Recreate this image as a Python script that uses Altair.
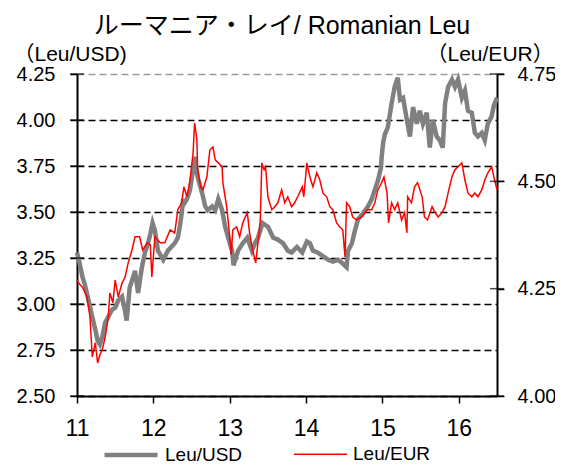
import altair as alt
import pandas as pd

# ---- data ----
usd_t = [11.00, 11.03, 11.07, 11.10, 11.14, 11.20, 11.24, 11.27, 11.30, 11.33, 11.37, 11.41, 11.46, 11.50,
         11.54, 11.59, 11.63, 11.65, 11.69, 11.76, 11.80, 11.85, 11.89, 11.93, 11.96, 11.99, 12.02, 12.06,
         12.13, 12.19, 12.28, 12.32, 12.35, 12.37, 12.39, 12.41, 12.44, 12.48, 12.52, 12.54, 12.58, 12.64,
         12.68, 12.71, 12.77, 12.81, 12.85, 12.90, 12.94, 12.98, 13.03, 13.05, 13.11, 13.17, 13.23, 13.29,
         13.33, 13.37, 13.43, 13.50, 13.57, 13.63, 13.70, 13.76, 13.81, 13.88, 13.95, 14.01, 14.05, 14.09,
         14.15, 14.22, 14.29, 14.35, 14.42, 14.48, 14.53, 14.55, 14.60, 14.64, 14.68, 14.74, 14.81, 14.86,
         14.90, 14.94, 14.98, 14.99, 15.01, 15.03, 15.07, 15.12, 15.16, 15.20, 15.23, 15.27, 15.32, 15.36,
         15.40, 15.45, 15.49, 15.53, 15.58, 15.62, 15.66, 15.71, 15.75, 15.79, 15.82, 15.86, 15.91, 15.95,
         15.99, 16.04, 16.08, 16.12, 16.17, 16.21, 16.25, 16.30, 16.34, 16.38, 16.43, 16.46, 16.50]
usd_v = [3.28, 3.23, 3.15, 3.11, 3.04, 2.93, 2.86, 2.80, 2.78, 2.82, 2.90, 2.93, 2.97, 2.98,
         3.02, 3.04, 2.96, 2.91, 3.09, 3.18, 3.06, 3.20, 3.28, 3.33, 3.38, 3.44, 3.40, 3.29,
         3.24, 3.29, 3.33, 3.36, 3.43, 3.49, 3.57, 3.55, 3.57, 3.62, 3.73, 3.80, 3.69, 3.60,
         3.53, 3.51, 3.53, 3.51, 3.57, 3.51, 3.42, 3.36, 3.29, 3.21, 3.29, 3.33, 3.36, 3.29,
         3.33, 3.36, 3.44, 3.42, 3.36, 3.35, 3.33, 3.29, 3.28, 3.31, 3.28, 3.34, 3.33, 3.29,
         3.28, 3.26, 3.24, 3.23, 3.24, 3.22, 3.20, 3.29, 3.33, 3.40, 3.46, 3.49, 3.53, 3.57,
         3.62, 3.67, 3.74, 3.80, 3.88, 3.92, 3.96, 4.09, 4.18, 4.23, 4.11, 4.12, 4.00, 3.91,
         4.07, 3.98, 4.05, 3.98, 4.04, 3.85, 4.00, 3.91, 3.89, 3.85, 4.09, 4.18, 4.22, 4.18,
         4.22, 4.12, 4.16, 4.05, 4.04, 3.93, 3.91, 3.93, 3.89, 3.98, 4.02, 4.08, 4.12]

eur_t = [11.00, 11.04, 11.07, 11.13, 11.17, 11.20, 11.24, 11.27, 11.30, 11.33, 11.37, 11.41, 11.43, 11.47,
         11.50, 11.54, 11.59, 11.63, 11.67, 11.72, 11.76, 11.82, 11.86, 11.92, 11.96, 11.98, 12.02, 12.09,
         12.15, 12.22, 12.28, 12.32, 12.37, 12.40, 12.44, 12.48, 12.52, 12.54, 12.57, 12.58, 12.62, 12.65,
         12.70, 12.74, 12.78, 12.81, 12.85, 12.90, 12.91, 12.96, 13.00, 13.02, 13.04, 13.09, 13.13, 13.17,
         13.23, 13.26, 13.30, 13.34, 13.37, 13.40, 13.42, 13.45, 13.47, 13.50, 13.55, 13.59, 13.63, 13.68,
         13.72, 13.76, 13.81, 13.85, 13.89, 13.95, 13.97, 14.01, 14.02, 14.05, 14.09, 14.14, 14.18, 14.22,
         14.27, 14.31, 14.35, 14.40, 14.44, 14.48, 14.51, 14.53, 14.57, 14.61, 14.66, 14.73, 14.80, 14.86,
         14.90, 14.94, 14.99, 15.02, 15.06, 15.08, 15.12, 15.16, 15.20, 15.25, 15.29, 15.32, 15.33, 15.38,
         15.42, 15.46, 15.52, 15.55, 15.59, 15.65, 15.69, 15.73, 15.78, 15.82, 15.86, 15.91, 15.95, 15.99,
         16.04, 16.08, 16.12, 16.17, 16.21, 16.25, 16.30, 16.34, 16.38, 16.43, 16.46, 16.50]
eur_v = [4.270, 4.259, 4.254, 4.231, 4.184, 4.091, 4.124, 4.077, 4.096, 4.107, 4.138, 4.184, 4.240, 4.217,
         4.270, 4.231, 4.263, 4.277, 4.310, 4.340, 4.371, 4.371, 4.340, 4.357, 4.352, 4.277, 4.371, 4.357,
         4.357, 4.387, 4.380, 4.434, 4.450, 4.487, 4.464, 4.503, 4.566, 4.636, 4.597, 4.527, 4.487, 4.480,
         4.510, 4.573, 4.580, 4.550, 4.543, 4.534, 4.497, 4.441, 4.371, 4.329, 4.387, 4.394, 4.371, 4.403,
         4.427, 4.380, 4.340, 4.310, 4.357, 4.410, 4.543, 4.527, 4.534, 4.464, 4.434, 4.441, 4.450, 4.480,
         4.450, 4.464, 4.441, 4.450, 4.464, 4.487, 4.464, 4.543, 4.534, 4.510, 4.487, 4.520, 4.503, 4.473,
         4.464, 4.441, 4.434, 4.403, 4.394, 4.387, 4.324, 4.450, 4.441, 4.417, 4.410, 4.417, 4.434, 4.434,
         4.450, 4.480, 4.497, 4.510, 4.473, 4.403, 4.450, 4.434, 4.450, 4.410, 4.427, 4.380, 4.464, 4.450,
         4.487, 4.497, 4.464, 4.417, 4.410, 4.441, 4.427, 4.417, 4.427, 4.441, 4.473, 4.510, 4.527, 4.534,
         4.543, 4.503, 4.473, 4.464, 4.473, 4.464, 4.480, 4.503, 4.520, 4.534, 4.510, 4.480]

series_names = ["Leu/USD", "Leu/EUR"]
series_colors = ["#808080", "#ff0000"]
series_widths = [4.5, 1.5]
x_ticks = [11, 12, 13, 14, 15, 16]
left_ticks = [2.50, 2.75, 3.00, 3.25, 3.50, 3.75, 4.00, 4.25]
right_ticks = [4.00, 4.25, 4.50, 4.75]
title_text = "ルーマニア・レイ/ Romanian Leu"
left_title = "（Leu/USD)"
right_title = "（Leu/EUR）"

FONT = "Liberation Sans, Arial, 'Noto Sans CJK JP', sans-serif"

usd = pd.DataFrame({"t": usd_t, "v": usd_v, "series": series_names[0]})
eur = pd.DataFrame({"t": eur_t, "v": eur_v, "series": series_names[1]})
lt = pd.DataFrame({"v": left_ticks})
rt = pd.DataFrame({"v": right_ticks})

W, H = 420, 322

x_enc = alt.X("t:Q", scale=alt.Scale(domain=[11, 16.5], nice=False, zero=False),
              axis=alt.Axis(values=x_ticks, format="d", title=None, grid=False, labelFlush=False,
                            labelFontSize=23, labelPadding=14, tickSize=7, tickWidth=1.5,
                            tickColor="black", domainColor="black", domainWidth=2,
                            labelColor="black"))

y_left = alt.Y("v:Q", scale=alt.Scale(domain=[2.5, 4.25], nice=False, zero=False),
               axis=alt.Axis(values=left_ticks, format=".2f", title=left_title,
                             titleAngle=0, titleX=-64, titleY=-14, titleAlign="left",
                             titleBaseline="alphabetic", titleFontSize=21, titleFontWeight="normal",
                             titleColor="black", labelFontSize=20, labelPadding=15, labelColor="black",
                             labelFlush=False,
                             tickSize=7, tickWidth=1.5, tickColor="black",
                             domainColor="black", domainWidth=2,
                             grid=True, gridDash=[7, 4], gridWidth=1.3,
                             gridColor={"condition": {"test": "datum.value === 4.25", "value": "#9a9a9a"},
                                        "value": "black"}))

y_right = alt.Y("v:Q", scale=alt.Scale(domain=[4.0, 4.75], nice=False, zero=False),
                axis=alt.Axis(orient="right", values=right_ticks, format=".2f", title=right_title,
                              titleAngle=0, titleX=-71, titleY=-14, titleAlign="left",
                              titleBaseline="alphabetic", titleFontSize=21, titleFontWeight="normal",
                              titleColor="black", labelFontSize=20, labelPadding=13, labelColor="black",
                              labelFlush=False,
                              tickSize=7, tickWidth=1.5, tickColor="black",
                              domainColor="black", domainWidth=2, grid=False))

leg = alt.Legend(title=None, orient="none", legendX=25, legendY=352, direction="horizontal",
                 symbolType="stroke", symbolSize=2809, labelFontSize=19, labelOffset=5,
                 columnPadding=48, padding=0, labelColor="black")

color_enc = alt.Color("series:N", scale=alt.Scale(domain=series_names, range=series_colors), legend=leg)
sw_enc = alt.StrokeWidth("series:N", scale=alt.Scale(domain=series_names, range=series_widths), legend=leg)

gray_line = alt.Chart(usd).mark_line().encode(x=x_enc, y=y_left, color=color_enc, strokeWidth=sw_enc)
left_tick_marks = alt.Chart(lt).mark_tick(color="black", thickness=1.5, size=14).encode(
    y=y_left, x=alt.value(0))
red_line = alt.Chart(eur).mark_line().encode(x=x_enc, y=y_right, color=color_enc, strokeWidth=sw_enc)
right_tick_marks = alt.Chart(rt).mark_tick(color="black", thickness=1.5, size=14).encode(
    y=y_right, x=alt.value(W))

left_layer = alt.layer(gray_line, left_tick_marks)
right_layer = alt.layer(red_line, right_tick_marks)

chart = alt.layer(left_layer, right_layer).resolve_scale(y="independent").properties(
    width=W, height=H,
    title=alt.TitleParams(title_text, fontSize=25, fontWeight="normal", anchor="middle", frame="group",
                          dx=-5, offset=4, color="black", font=FONT),
    padding={"left": 69, "top": 66, "right": 58, "bottom": 70},
    autosize=alt.AutoSizeParams(type="none"),
).configure(font=FONT).configure_view(stroke=None).configure_axis(
    labelFont=FONT, titleFont=FONT).configure_legend(labelFont=FONT)

chart.save("out.html", embed_options={"renderer": "svg", "actions": False})
